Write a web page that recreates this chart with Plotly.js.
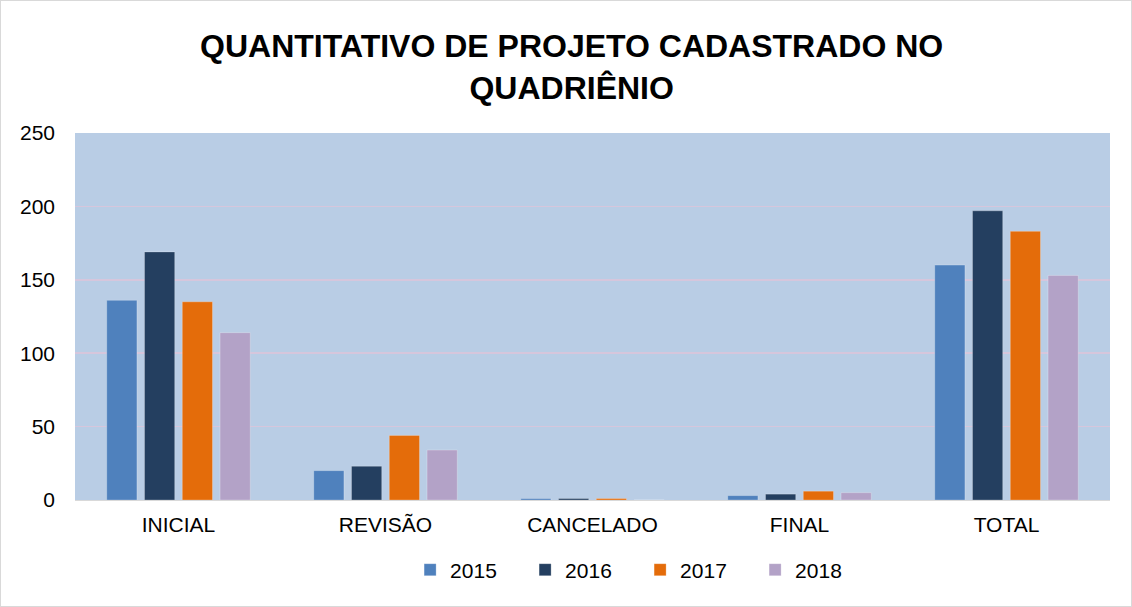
<!DOCTYPE html>
<html><head><meta charset="utf-8">
<script src="https://cdn.plot.ly/plotly-3.0.1.min.js"></script>
<style>html,body{margin:0;padding:0;background:#fff}#chart{width:1132px;height:607px;box-sizing:border-box;border:1px solid #d9d9d9}</style>
</head><body><div id="chart"></div>
<script>
const categories = ["INICIAL","REVISÃO","CANCELADO","FINAL","TOTAL"];
const years = ["2015","2016","2017","2018"];
const v2015 = [136, 20, 1, 3, 160];
const v2016 = [169, 23, 1, 4, 197];
const v2017 = [135, 44, 1, 6, 183];
const v2018 = [114, 34, 0, 5, 153];
const colors = ["#4f81bd","#243f60","#e46c0a","#b3a2c7"];
const series = [v2015, v2016, v2017, v2018];
const data = series.map((vals,i)=>({
  type:"bar", name:years[i], x:categories, y:vals,
  marker:{color:colors[i], line:{color:"rgba(255,255,255,0.25)", width:1}}
}));
const layout = {
  width:1130, height:605,
  margin:{l:74, r:21, t:132, b:106},
  paper_bgcolor:"#ffffff", plot_bgcolor:"#b9cde5",
  font:{family:"Liberation Sans, Arial, sans-serif", color:"#000", size:21},
  title:{text:"<b>QUANTITATIVO DE PROJETO CADASTRADO NO<br>QUADRIÊNIO</b>", x:0.505, xanchor:"center", y:0.907, yanchor:"top",
    font:{size:32, family:"Liberation Sans, Arial, sans-serif", color:"#000"}},
  barmode:"group", bargap:0.27, bargroupgap:0.2,
  xaxis:{tickfont:{size:21}, showline:true, linecolor:"#d9d9d9", linewidth:1, ticks:"", ticklabelstandoff:6, fixedrange:true},
  yaxis:{range:[0,250], dtick:50, gridcolor:"#d6c6dc", gridwidth:1.5, zeroline:false, tickfont:{size:21}, ticks:"", ticklabelstandoff:19, automargin:false},
  legend:{orientation:"h", x:0.546, xanchor:"center", y:-0.135, yanchor:"top", font:{size:21}, entrywidth:70, entrywidthmode:"pixels", tracegroupgap:0},
  showlegend:true
};
Plotly.newPlot("chart", data, layout, {displayModeBar:false, staticPlot:true});
</script></body></html>
